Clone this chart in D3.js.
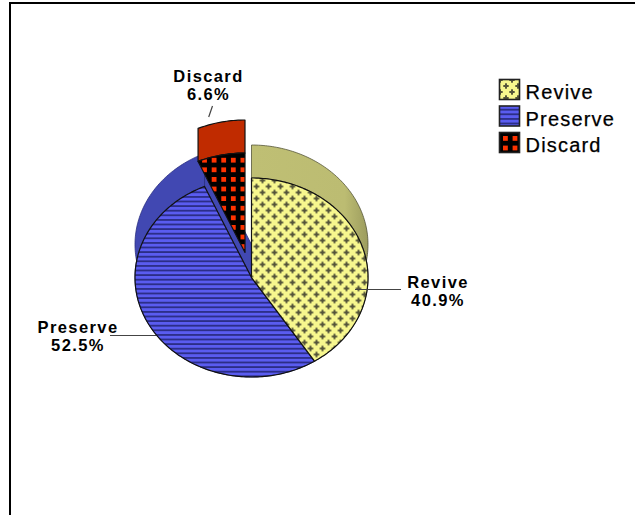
<!DOCTYPE html>
<html>
<head>
<meta charset="utf-8">
<script src="https://cdn.jsdelivr.net/npm/d3@7"></script>
<style>
html,body{margin:0;padding:0;background:#fff}
svg{display:block}
text{font-family:"Liberation Sans",Arial,sans-serif;fill:#000}
</style>
</head>
<body>
<div id="chart"></div>
<script>
// Outcome shares shown on the extruded pie
const categories = ["Revive", "Preserve", "Discard"];
const shares = [40.9, 52.5, 6.6];
const wallColors = ["url(#oliveWall)", "#4148b2", "#c02b00"];
const faceFills = ["url(#crosses)", "url(#stripes)", "url(#dots)"];

const W = 635, H = 515;
const cx = 251.5, cy = 277.5, rx = 116.5, ry = 99.5;   // face ellipse
const depth = 33;                                     // extrusion, drawn upward
const burst = {dx: -6.5, dy: -25};                    // offset of the pulled-out slice

const svg = d3.select("#chart").append("svg").attr("width", W).attr("height", H);
svg.append("rect").attr("width", W).attr("height", H).attr("fill", "#fff");

// Page frame: top and left rules only
svg.append("rect").attr("x", 9).attr("y", 2).attr("width", W - 9).attr("height", 2).attr("fill", "#000");
svg.append("rect").attr("x", 9).attr("y", 2).attr("width", 2).attr("height", H - 2).attr("fill", "#000");

const defs = svg.append("defs");

const grad = defs.append("linearGradient").attr("id", "oliveWall");
grad.append("stop").attr("offset", "0").attr("stop-color", "#bfbf74");
grad.append("stop").attr("offset", "0.8").attr("stop-color", "#bcbc72");
grad.append("stop").attr("offset", "1").attr("stop-color", "#9c9c5e");

// Yellow ground with staggered dark crosses
const crossTile = 12;
const crosses = defs.append("pattern").attr("id", "crosses")
  .attr("patternUnits", "userSpaceOnUse").attr("width", crossTile).attr("height", crossTile)
  .attr("x", 289.5).attr("y", 207.5);
crosses.append("rect").attr("width", crossTile).attr("height", crossTile).attr("fill", "#f7f78e");
[[3, 3], [9, 9]].forEach(([x, y]) => {
  crosses.append("rect").attr("x", x - 2.7).attr("y", y - 1).attr("width", 5.4).attr("height", 2).attr("fill", "#55553a");
  crosses.append("rect").attr("x", x - 1).attr("y", y - 2.7).attr("width", 2).attr("height", 5.4).attr("fill", "#55553a");
});

// Blue ground with horizontal dark rules
const stripeTile = 4.6;
const stripes = defs.append("pattern").attr("id", "stripes")
  .attr("patternUnits", "userSpaceOnUse").attr("width", 8).attr("height", stripeTile);
stripes.append("rect").attr("width", 8).attr("height", stripeTile).attr("fill", "#5a5cf0");
stripes.append("rect").attr("y", 2.8).attr("width", 8).attr("height", 1.8).attr("fill", "#2b2d86");

// Black ground with red squares
const dotTile = 9.6;
const dots = defs.append("pattern").attr("id", "dots")
  .attr("patternUnits", "userSpaceOnUse").attr("width", dotTile).attr("height", dotTile)
  .attr("x", 208.6).attr("y", 163.6);
dots.append("rect").attr("width", dotTile).attr("height", dotTile).attr("fill", "#000");
dots.append("rect").attr("width", 4.8).attr("height", 4.8).attr("fill", "#ff3300");

// Pie angles run clockwise from twelve o'clock
const arcs = d3.pie().sort(null).value(d => d)(shares);

const sx = d3.scaleLinear().domain([-1, 1]).range([cx - rx, cx + rx]);
const sy = d3.scaleLinear().domain([-1, 1]).range([cy - ry, cy + ry]);
const rim = (a) => [sx(Math.sin(a)), sy(-Math.cos(a))];
const line = d3.line();

function arcPoints(a0, a1) {
  const n = Math.max(2, Math.ceil((a1 - a0) / 0.02));
  return d3.range(n + 1).map(i => rim(a0 + (a1 - a0) * i / n));
}
const facePath = (a0, a1) => line([[sx(0), sy(0)], ...arcPoints(a0, a1)]) + "Z";
function wallPath(a0, a1) {
  const front = arcPoints(a0, a1);
  const back = front.map(([x, y]) => [x, y - depth]).reverse();
  return line([...front, ...back]) + "Z";
}
function radialWall(a) {
  const [x, y] = rim(a);
  return line([[sx(0), sy(0)], [x, y], [x, y - depth], [sx(0), sy(0) - depth]]) + "Z";
}

const outline = {stroke: "#111", "stroke-width": 1.2, "stroke-linejoin": "round"};
const paint = (sel, o) => { Object.entries(o).forEach(([k, v]) => sel.attr(k, v)); return sel; };
const pieG = svg.append("g");

const [revive, preserve, discard] = arcs;

// Extruded walls sit behind the faces
paint(pieG.append("path").attr("d", wallPath(preserve.startAngle, preserve.endAngle)).attr("fill", wallColors[1]), {stroke: "#2a2f80", "stroke-width": 0.8});
paint(pieG.append("path").attr("d", wallPath(revive.startAngle, revive.endAngle)).attr("fill", wallColors[0]), {stroke: "#55553a", "stroke-width": 0.8});
paint(pieG.append("path").attr("d", radialWall(preserve.endAngle)).attr("fill", wallColors[1]), {stroke: "#2a2f80", "stroke-width": 0.8});

// Pulled-out slice
const burstG = pieG.append("g").attr("transform", `translate(${burst.dx},${burst.dy})`);
paint(burstG.append("path").attr("d", wallPath(discard.startAngle, discard.endAngle)).attr("fill", wallColors[2]), outline);
paint(burstG.append("path").attr("d", facePath(discard.startAngle, discard.endAngle)).attr("fill", faceFills[2]), outline);

// Front faces
paint(pieG.append("path").attr("d", facePath(preserve.startAngle, preserve.endAngle)).attr("fill", faceFills[1]), outline);
paint(pieG.append("path").attr("d", facePath(revive.startAngle, revive.endAngle)).attr("fill", faceFills[0]), outline);

// Leader lines
const leaders = [
  [[355, 289.5], [401, 289.5]],
  [[110, 335.5], [156, 335.5]],
  [[208.7, 117], [212.5, 106]]
];
svg.selectAll("path.leader").data(leaders).join("path").attr("class", "leader")
  .attr("d", d => line(d)).attr("fill", "none").attr("stroke", "#444").attr("stroke-width", 1.2);

// Data labels
const labelAnchors = [[438, 288, 306], [78, 333, 351], [208.5, 81.5, 99.5]];
const labels = svg.append("g").attr("font-weight", "bold").attr("font-size", 16.5).attr("letter-spacing", 1.4).attr("text-anchor", "middle");
categories.forEach((c, i) => {
  const [x, y1, y2] = labelAnchors[i];
  labels.append("text").attr("x", x).attr("y", y1).text(c);
  labels.append("text").attr("x", x).attr("y", y2).text(shares[i].toFixed(1) + "%");
});

// Legend swatches reuse the face patterns, aligned to each swatch
[["legendCrosses", "#crosses", 503, 83], ["legendStripes", "#stripes", 500, 106], ["legendDots", "#dots", 503, 136]].forEach(([id, ref, x, y]) => {
  defs.append("pattern").attr("id", id).attr("href", ref).attr("x", x).attr("y", y);
});

// Legend
const legend = svg.append("g");
const legendY = d3.scalePoint().domain(categories).range([79, 132]);
const swatchFills = ["url(#legendCrosses)", "url(#legendStripes)", "url(#legendDots)"];
categories.forEach((c, i) => {
  const y = legendY(c);
  legend.append("rect").attr("x", 499.5).attr("y", y + 0.5).attr("width", 20).attr("height", 20)
    .attr("fill", swatchFills[i])
    .attr("stroke", "#222").attr("stroke-width", 1.6);
  legend.append("text").attr("x", 525.5).attr("y", y + 20).attr("font-size", 20).attr("letter-spacing", 1.2)
    .attr("stroke", "#000").attr("stroke-width", 0.25).text(c);
});
</script>
</body>
</html>
